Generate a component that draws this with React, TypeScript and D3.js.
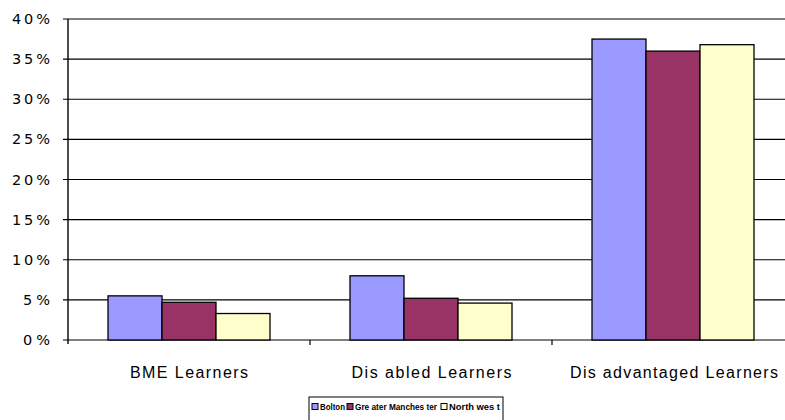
import React from "react";
import * as d3 from "d3";

const categories = ["BME Learners", "Dis abled Learners", "Dis advantaged Learners"];
const seriesNames = ["Bolton", "Gre ater Manches ter", "North wes t"];
const bolton = [5.5, 8.0, 37.5];
const greaterManchester = [4.7, 5.2, 36.0];
const northWest = [3.3, 4.6, 36.8];
const yTicks = [0, 5, 10, 15, 20, 25, 30, 35, 40];
const yTickLabels = ["0 %", "5 %", "10%", "15%", "20%", "25%", "30%", "35%", "40%"];
const colors = ["#9999ff", "#993366", "#ffffcc"];

export default function App() {
  const W = 785, H = 420;
  const left = 68, right = 794, top = 19, bottom = 340;
  const series = [bolton, greaterManchester, northWest];
  const x0 = d3.scaleBand().domain(categories).range([left, right]).paddingInner(0).paddingOuter(0);
  const y = d3.scaleLinear().domain([0, 40]).range([bottom, top]);
  const groupW = 162;
  const x1 = d3.scaleBand().domain(seriesNames).range([0, groupW]).padding(0);
  const font = "'Liberation Sans', Arial, sans-serif";
  const tickFont = "'DejaVu Sans', Verdana, sans-serif";
  const catLens = [118, 160, 208];
  const legendItems = [
    { sx: 312, tx: 320, len: 25 },
    { sx: 347, tx: 355, len: 82 },
    { sx: 441, tx: 449, len: 51 },
  ];
  return (
    <svg width={W} height={H} style={{ position: "absolute", left: 0, top: 0, background: "#fff" }}>
      <g>
        {yTicks.map((t, i) => (
          <g key={t}>
            <line x1={left - 5} x2={W} y1={y(t)} y2={y(t)} stroke="#000" strokeWidth={1.2} />
            <text
              x={50}
              y={y(t)}
              dy="0.35em"
              textAnchor="end"
              fontFamily={tickFont}
              fontSize={14.5}
              fill="#000"
              textLength={t >= 10 ? 38 : 27}
              lengthAdjust="spacing"
            >
              {yTickLabels[i]}
            </text>
          </g>
        ))}
        <line x1={left} x2={left} y1={top} y2={bottom + 4} stroke="#000" strokeWidth={1.4} />
        {categories.map((c, i) => (
          <g key={c}>
            {i > 0 && <line x1={x0(c)!} x2={x0(c)!} y1={bottom} y2={bottom + 5} stroke="#000" strokeWidth={1.2} />}
            <text
              x={x0(c)! + x0.bandwidth() / 2 + 0.5 * i}
              y={372}
              dy="0.35em"
              textAnchor="middle"
              fontFamily={font}
              fontSize={16}
              fill="#000"
              textLength={catLens[i]}
              lengthAdjust="spacing"
            >
              {c}
            </text>
          </g>
        ))}
        {categories.map((c, ci) => {
          const gx = x0(c)! + (x0.bandwidth() - groupW) / 2;
          return series.map((s, si) => (
            <rect
              key={c + si}
              x={gx + x1(seriesNames[si])!}
              y={y(s[ci])}
              width={x1.bandwidth()}
              height={bottom - y(s[ci])}
              fill={colors[si]}
              stroke="#000"
              strokeWidth={1.3}
            />
          ));
        })}
      </g>
      <g>
        <rect x={309} y={397} width={194} height={24} fill="#fff" stroke="#000" strokeWidth={1} />
        {legendItems.map((d, i) => (
          <g key={i}>
            <rect x={d.sx} y={403.5} width={6} height={6} fill={colors[i]} stroke="#000" strokeWidth={1} />
            <text
              x={d.tx}
              y={407}
              dy="0.35em"
              fontFamily={font}
              fontSize={9}
              fontWeight="bold"
              fill="#000"
              textLength={d.len}
              lengthAdjust="spacingAndGlyphs"
            >
              {seriesNames[i]}
            </text>
          </g>
        ))}
      </g>
    </svg>
  );
}
